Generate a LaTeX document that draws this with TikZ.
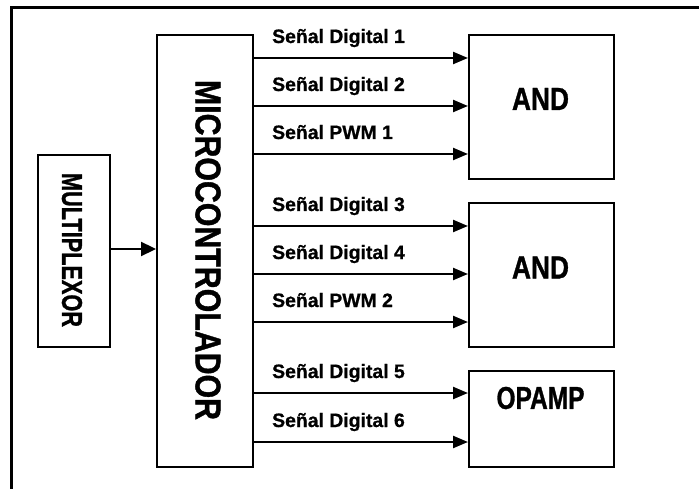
\documentclass[tikz,border=0pt]{standalone}
\usepackage{fontspec}
\setmainfont{Liberation Sans}
\newfontfamily\hvy{Liberation Sans Bold}[FakeBold=1.2]
\newfontfamily\hvylbl{Liberation Sans Bold}[FakeBold=0.8]
\usetikzlibrary{arrows.meta}
\newcommand{\fit}[3]{\resizebox{#1pt}{#2pt}{\hvy #3}}
\begin{document}
\begin{tikzpicture}[x=1pt,y=-1pt,
  blk/.style={draw=black,line width=2.4pt,inner sep=0pt,anchor=north west},
  sig/.style={line width=2.3pt,-{Triangle[length=15pt,width=12pt]}},
  lbl/.style={anchor=base west,inner sep=0pt,font=\hvylbl\fontsize{19.4}{20}\selectfont},
  frame/.style={line width=3pt,line cap=rect}]
\useasboundingbox (0,0) rectangle (699,489);
% outer frame (top and left edges visible)
\coordinate (fTR) at (699,8);
\coordinate (fTL) at (11,8);
\coordinate (fBL) at (11,489);
\draw[frame] (fTR) -- (fTL) -- (fBL);
% blocks
\node[blk,minimum width=72pt,minimum height=192pt] (mux) at (37,154) {};
\node[blk,minimum width=96pt,minimum height=432pt] (micro) at (156,34) {};
\node[blk,minimum width=145pt,minimum height=144pt] (and1) at (468,34) {};
\node[blk,minimum width=145pt,minimum height=144pt] (and2) at (468,202) {};
\node[blk,minimum width=145pt,minimum height=96pt] (opamp) at (468,370) {};
% block texts
\node[inner sep=0pt,rotate=-90] (tmux) at (72,250) {\fit{154}{20}{MULTIPLEXOR}};
\node[inner sep=0pt,rotate=-90] (tmicro) at (208,250) {\fit{340}{25}{MICROCONTROLADOR}};
\node[inner sep=0pt] (tand1) at (540.5,99) {\fit{57}{22}{AND}};
\node[inner sep=0pt] (tand2) at (540.5,267.5) {\fit{57}{22}{AND}};
\node[inner sep=0pt] (topamp) at (540.5,398) {\fit{88}{22}{OPAMP}};
% mux to micro
\coordinate (m0) at (0,249);
\draw[sig,-{Triangle[length=15pt,width=14pt]}] (mux.east |- m0) -- (micro.west |- m0);
% signal lines
\coordinate (s1) at (0,58);
\coordinate (s2) at (0,106);
\coordinate (s3) at (0,154);
\coordinate (s4) at (0,226);
\coordinate (s5) at (0,274);
\coordinate (s6) at (0,322);
\coordinate (s7) at (0,393);
\coordinate (s8) at (0,442);
\draw[sig] (micro.east |- s1) -- (and1.west |- s1);
\draw[sig] (micro.east |- s2) -- (and1.west |- s2);
\draw[sig] (micro.east |- s3) -- (and1.west |- s3);
\draw[sig] (micro.east |- s4) -- (and2.west |- s4);
\draw[sig] (micro.east |- s5) -- (and2.west |- s5);
\draw[sig] (micro.east |- s6) -- (and2.west |- s6);
\draw[sig] (micro.east |- s7) -- (opamp.west |- s7);
\draw[sig] (micro.east |- s8) -- (opamp.west |- s8);
% labels
\node[lbl] (l1) at (272,43) {Señal Digital 1};
\node[lbl] (l2) at (272,91) {Señal Digital 2};
\node[lbl] (l3) at (272,139) {Señal PWM 1};
\node[lbl] (l4) at (272,211) {Señal Digital 3};
\node[lbl] (l5) at (272,259) {Señal Digital 4};
\node[lbl] (l6) at (272,307) {Señal PWM 2};
\node[lbl] (l7) at (272,378) {Señal Digital 5};
\node[lbl] (l8) at (272,427) {Señal Digital 6};
\end{tikzpicture}
\end{document}
